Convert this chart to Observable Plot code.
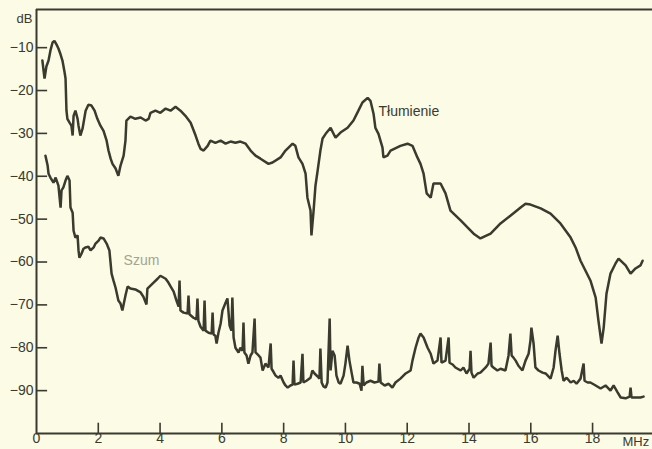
<!DOCTYPE html>
<html><head><meta charset="utf-8">
<script src="https://cdn.jsdelivr.net/npm/d3@7"></script>
<script src="https://cdn.jsdelivr.net/npm/@observablehq/plot@0.6"></script>
<style>
html,body{margin:0;padding:0;background:#fbfbe6;}
#chart svg{display:block;}
</style></head>
<body><div id="chart"></div>
<script>
// Tłumienie (attenuation) curve: [MHz, dB]
const tlumienie = [[0.19,-13.0],[0.26,-17.2],[0.32,-14.4],[0.39,-13.0],[0.45,-10.7],[0.52,-8.8],[0.58,-8.4],[0.65,-9.3],[0.71,-10.2],[0.78,-11.6],
[0.84,-13.0],[0.91,-15.8],[0.94,-17.2],[0.97,-24.7],[1.00,-26.6],[1.07,-27.5],[1.13,-28.2],[1.17,-30.5],[1.20,-25.9],[1.26,-24.7],
[1.33,-26.6],[1.36,-28.2],[1.42,-30.5],[1.49,-28.9],[1.59,-24.7],[1.68,-23.3],[1.78,-23.5],[1.88,-24.7],[1.97,-26.6],[2.07,-28.2],
[2.17,-29.4],[2.27,-31.7],[2.33,-34.0],[2.40,-35.9],[2.46,-37.1],[2.56,-38.2],[2.65,-39.9],[2.72,-37.5],[2.82,-35.2],[2.88,-31.7],
[2.91,-27.0],[3.04,-26.1],[3.20,-26.6],[3.37,-26.3],[3.53,-27.0],[3.63,-26.6],[3.69,-25.2],[3.85,-24.7],[4.01,-25.2],[4.18,-24.2],
[4.34,-24.7],[4.50,-23.8],[4.66,-24.7],[4.82,-25.9],[4.99,-27.5],[5.15,-30.5],[5.24,-32.4],[5.31,-33.6],[5.41,-34.0],[5.54,-32.9],
[5.63,-31.7],[5.79,-32.2],[5.96,-31.7],[6.12,-32.4],[6.28,-31.9],[6.44,-32.2],[6.60,-31.9],[6.77,-32.4],[6.93,-34.0],[7.09,-35.2],
[7.25,-35.9],[7.51,-37.1],[7.64,-36.8],[7.90,-35.6],[8.06,-34.0],[8.29,-32.4],[8.38,-32.9],[8.48,-35.6],[8.61,-37.1],[8.71,-39.4],
[8.77,-45.0],[8.87,-48.0],[8.90,-53.8],[8.97,-48.0],[9.03,-42.2],[9.10,-38.7],[9.19,-34.0],[9.26,-31.2],[9.36,-30.1],[9.52,-28.7],
[9.68,-31.0],[9.84,-29.8],[10.07,-28.7],[10.26,-27.0],[10.42,-24.7],[10.55,-22.8],[10.72,-21.7],[10.81,-22.4],[10.91,-25.4],[10.97,-28.7],
[11.07,-30.1],[11.20,-33.3],[11.23,-35.6],[11.36,-35.2],[11.46,-34.0],[11.78,-32.9],[12.01,-32.4],[12.17,-32.9],[12.33,-35.6],[12.43,-37.1],
[12.53,-39.4],[12.63,-44.0],[12.76,-45.0],[12.85,-41.7],[13.08,-41.7],[13.24,-44.0],[13.40,-48.0],[13.73,-50.3],[13.99,-52.2],[14.15,-53.4],
[14.37,-54.5],[14.70,-53.4],[15.02,-51.0],[15.34,-49.2],[15.67,-47.3],[15.83,-46.4],[15.99,-46.6],[16.32,-47.5],[16.64,-48.7],[16.96,-51.0],
[17.29,-54.3],[17.45,-56.6],[17.61,-59.7],[17.93,-64.3],[18.10,-68.3],[18.19,-73.7],[18.29,-79.0],[18.36,-75.3],[18.45,-67.4],[18.58,-62.7],
[18.74,-60.4],[18.84,-59.2],[19.07,-60.8],[19.23,-62.7],[19.39,-61.5],[19.55,-60.8],[19.62,-59.7]];

// Szum (noise) curve: [MHz, dB]
const szum = [[0.29,-35.2],[0.36,-37.5],[0.39,-39.4],[0.45,-40.3],[0.55,-41.5],[0.62,-40.3],[0.71,-42.2],[0.78,-47.3],[0.81,-43.3],[0.87,-42.6],
[0.94,-41.0],[1.00,-39.9],[1.07,-41.0],[1.10,-47.3],[1.17,-48.5],[1.20,-52.7],[1.26,-54.3],[1.33,-53.8],[1.36,-57.3],[1.39,-59.0],
[1.46,-58.0],[1.52,-56.9],[1.59,-56.6],[1.68,-56.4],[1.75,-57.3],[1.85,-56.6],[1.91,-55.7],[2.01,-55.0],[2.07,-54.3],[2.17,-54.5],
[2.27,-55.7],[2.36,-57.3],[2.43,-62.7],[2.49,-64.3],[2.56,-66.0],[2.65,-69.0],[2.72,-69.7],[2.78,-71.3],[2.88,-67.8],[2.95,-65.7],
[3.04,-66.2],[3.20,-66.4],[3.37,-67.1],[3.46,-68.1],[3.56,-69.9],[3.59,-66.2],[3.69,-65.5],[3.79,-64.8],[3.92,-63.9],[4.01,-63.2],
[4.18,-63.9],[4.27,-64.8],[4.34,-65.7],[4.44,-66.9],[4.53,-69.0],[4.60,-70.4],[4.63,-64.3],[4.66,-71.3],[4.76,-71.8],[4.89,-72.0],
[4.92,-67.8],[4.95,-72.2],[5.08,-73.0],[5.18,-73.4],[5.21,-68.5],[5.24,-73.7],[5.31,-75.1],[5.41,-76.0],[5.44,-69.0],[5.47,-76.0],
[5.57,-76.5],[5.67,-76.7],[5.70,-71.8],[5.73,-76.9],[5.79,-77.2],[5.83,-79.0],[5.89,-76.5],[5.96,-74.4],[6.02,-71.3],[6.12,-69.5],
[6.18,-68.5],[6.25,-74.8],[6.31,-76.0],[6.34,-68.3],[6.38,-77.6],[6.44,-80.0],[6.54,-81.1],[6.60,-80.0],[6.67,-80.7],[6.70,-74.1],
[6.73,-81.1],[6.80,-81.8],[6.86,-83.7],[6.93,-81.8],[6.99,-81.1],[7.06,-73.2],[7.09,-81.1],[7.19,-81.8],[7.25,-82.3],[7.32,-85.3],
[7.41,-83.7],[7.51,-84.6],[7.58,-79.0],[7.61,-84.9],[7.67,-85.6],[7.74,-86.5],[7.83,-87.0],[7.90,-86.5],[8.00,-88.1],[8.06,-88.8],
[8.13,-89.3],[8.22,-88.8],[8.29,-88.6],[8.32,-83.0],[8.35,-88.6],[8.45,-88.4],[8.55,-88.1],[8.61,-81.4],[8.64,-88.1],[8.74,-87.7],
[8.87,-87.0],[8.93,-85.3],[9.00,-86.0],[9.10,-86.7],[9.16,-87.2],[9.19,-80.2],[9.23,-88.1],[9.29,-89.0],[9.36,-89.3],[9.42,-88.1],
[9.49,-73.2],[9.52,-85.3],[9.58,-80.7],[9.65,-81.8],[9.71,-86.5],[9.78,-88.1],[9.84,-88.4],[9.94,-86.5],[10.00,-83.7],[10.07,-79.5],
[10.13,-83.0],[10.20,-85.8],[10.26,-88.1],[10.36,-88.1],[10.46,-88.4],[10.52,-90.0],[10.55,-84.2],[10.59,-88.8],[10.68,-88.1],[10.81,-87.7],
[10.94,-88.1],[11.07,-87.9],[11.10,-83.7],[11.14,-88.1],[11.27,-88.8],[11.40,-88.4],[11.52,-89.3],[11.62,-88.1],[11.78,-87.2],[11.95,-86.0],
[12.11,-85.3],[12.17,-83.0],[12.27,-80.0],[12.37,-77.6],[12.43,-76.7],[12.53,-77.6],[12.66,-80.0],[12.76,-81.4],[12.85,-83.7],[12.98,-83.0],
[13.08,-77.6],[13.11,-83.5],[13.24,-83.0],[13.34,-77.6],[13.37,-83.5],[13.47,-83.9],[13.56,-84.6],[13.73,-85.3],[13.82,-84.6],[13.92,-86.0],
[14.02,-84.9],[14.05,-80.7],[14.08,-85.8],[14.15,-87.0],[14.28,-86.0],[14.37,-85.8],[14.54,-84.6],[14.63,-83.7],[14.70,-78.8],[14.73,-84.2],
[14.79,-84.6],[14.92,-85.3],[15.02,-84.9],[15.18,-85.3],[15.28,-81.8],[15.34,-76.7],[15.38,-81.8],[15.44,-82.3],[15.51,-83.0],[15.60,-84.2],
[15.73,-85.3],[15.83,-83.0],[15.93,-81.4],[15.99,-78.3],[16.02,-75.3],[16.09,-79.0],[16.15,-84.6],[16.25,-85.3],[16.38,-85.8],[16.48,-86.0],
[16.64,-87.2],[16.74,-84.6],[16.80,-80.7],[16.87,-77.2],[16.93,-81.4],[17.00,-85.3],[17.06,-87.7],[17.16,-87.0],[17.29,-88.1],[17.39,-87.7],
[17.48,-88.4],[17.61,-87.2],[17.71,-83.7],[17.74,-87.7],[17.84,-88.1],[17.93,-88.1],[18.10,-88.8],[18.26,-89.5],[18.42,-88.8],[18.58,-90.0],
[18.68,-88.8],[18.81,-90.4],[18.91,-91.6],[19.07,-91.8],[19.20,-91.4],[19.23,-89.3],[19.26,-91.6],[19.39,-91.6],[19.55,-91.6],[19.65,-91.4]];

const yTicks = [-10,-20,-30,-40,-50,-60,-70,-80,-90];
const xTicks = [0,2,4,6,8,10,12,14,16,18];
const seriesLabels = [{name:"Tłumienie", x:11.07, y:-24.9}, {name:"Szum", x:2.82, y:-59.7}];
const yUnit = "dB";
const xUnit = "MHz";

const ink = "#3a3a2e";
const font = "'Liberation Sans', Arial, sans-serif";

const chart = Plot.plot({
  width: 652,
  height: 449,
  marginLeft: 36,
  marginRight: 0,
  marginTop: 9,
  marginBottom: 16,
  style: {background: "#fbfbe6", fontFamily: font, color: ink},
  x: {domain: [0, 19.94]},
  y: {domain: [-100, -1.1]},
  marks: [
    Plot.axisY({ticks: yTicks, tickSize: 0, tickPadding: 3, fontSize: 14, tickFormat: d => "\u2212" + Math.abs(d), label: null}),
    Plot.axisX({ticks: xTicks, tickSize: 0, tickPadding: 0, fontSize: 14, label: null}),
    Plot.ruleY(yTicks, {x1: 0, x2: 0.36, stroke: ink, strokeWidth: 1.6}),
    Plot.ruleX(xTicks.filter(d => d > 0), {y1: -100, y2: -97.6, stroke: ink, strokeWidth: 1.6}),
    Plot.ruleX([0], {stroke: ink, strokeWidth: 2}),
    Plot.ruleY([-100], {stroke: ink, strokeWidth: 2}),
    Plot.ruleY([-1.1], {stroke: ink, strokeWidth: 1.8}),
    Plot.line(tlumienie, {x: d => d[0], y: d => d[1], stroke: ink, strokeWidth: 2.5, strokeLinejoin: "miter"}),
    Plot.line(szum, {x: d => d[0], y: d => d[1], stroke: ink, strokeWidth: 2.5, strokeLinejoin: "miter"}),
    Plot.text(seriesLabels, {x: "x", y: "y", text: "name", textAnchor: "start", fontSize: 14,
      fill: (d, i) => i === 0 ? ink : "#a4a492"}),
    Plot.text([yUnit], {x: 0, y: -1.1, dx: -4, dy: 9, textAnchor: "end", fontSize: 13, fill: ink, text: d => d}),
    Plot.text([xUnit], {x: 19.4, y: -100, dy: 8, textAnchor: "middle", fontSize: 13, fill: ink, text: d => d})
  ]
});
document.getElementById("chart").appendChild(chart);
</script>
</body></html>
